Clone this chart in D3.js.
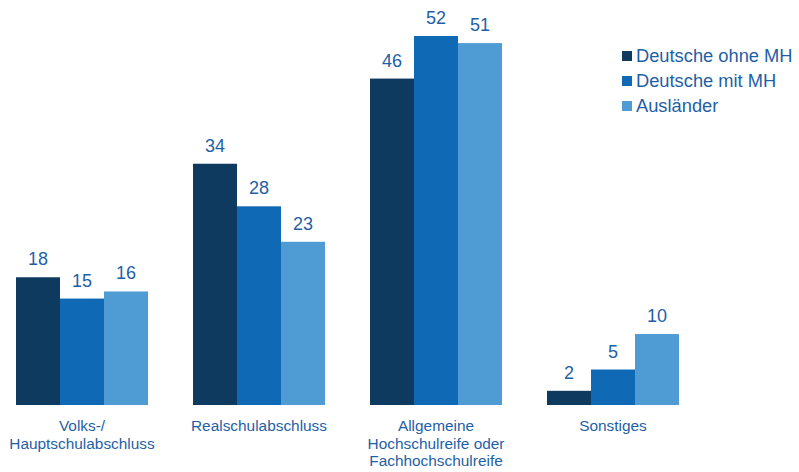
<!DOCTYPE html>
<html>
<head>
<meta charset="utf-8">
<script src="https://cdn.jsdelivr.net/npm/d3@7"></script>
<style>
  html, body { margin: 0; padding: 0; background: #ffffff; }
  svg { display: block; font-family: "Liberation Sans", Arial, sans-serif; }
</style>
</head>
<body>
<svg id="chart" width="799" height="472"></svg>
<script>
// Schulabschlüsse nach Herkunft (Anteile in %)
const categories = [
  ["Volks-/", "Hauptschulabschluss"],
  ["Realschulabschluss"],
  ["Allgemeine", "Hochschulreife oder", "Fachhochschulreife"],
  ["Sonstiges"]
];
const seriesNames = ["Deutsche ohne MH", "Deutsche mit MH", "Ausländer"];
const deutscheOhneMH = [18, 34, 46, 2];
const deutscheMitMH = [15, 28, 52, 5];
const auslaender = [16, 23, 51, 10];
const seriesValues = [deutscheOhneMH, deutscheMitMH, auslaender];
const colors = ["#0f3a5f", "#0f69b4", "#4f9cd4"];
const textColor = "#1f5fa6";

const svg = d3.select("#chart");

const x0 = d3.scaleBand()
  .domain(d3.range(categories.length))
  .range([16, 679])
  .paddingInner(45 / 177)
  .paddingOuter(0);
const x1 = d3.scaleBand()
  .domain(d3.range(seriesNames.length))
  .range([0, x0.bandwidth()]);
const y = d3.scaleLinear().domain([0, 52]).range([405, 36]);

const groups = svg.append("g").selectAll("g")
  .data(categories)
  .join("g")
  .attr("transform", (d, i) => `translate(${x0(i)},0)`);

groups.each(function(cat, ci) {
  const g = d3.select(this);
  seriesValues.forEach((vals, si) => {
    const v = vals[ci];
    g.append("rect")
      .attr("x", x1(si))
      .attr("y", y(v))
      .attr("width", x1.bandwidth())
      .attr("height", y(0) - y(v))
      .attr("fill", colors[si]);
    g.append("text")
      .attr("x", x1(si) + x1.bandwidth() / 2)
      .attr("y", y(v) - 12)
      .attr("text-anchor", "middle")
      .attr("font-size", "18px")
      .attr("fill", textColor)
      .text(v);
  });
  const cx = x0.bandwidth() / 2;
  const t = g.append("text")
    .attr("x", cx)
    .attr("y", 431)
    .attr("text-anchor", "middle")
    .attr("font-size", "15.4px")
    .attr("fill", textColor);
  cat.forEach((line, li) => {
    t.append("tspan")
      .attr("x", cx)
      .attr("dy", li === 0 ? 0 : 17.5)
      .text(line);
  });
});

// Legende
const legend = svg.append("g").attr("transform", "translate(622,0)");
seriesNames.forEach((name, i) => {
  const ly = 51 + i * 25;
  legend.append("rect")
    .attr("x", 0).attr("y", ly)
    .attr("width", 10).attr("height", 10)
    .attr("fill", colors[i]);
  legend.append("text")
    .attr("x", 14).attr("y", ly + 11)
    .attr("font-size", "18.3px")
    .attr("fill", textColor)
    .text(name);
});
</script>
</body>
</html>
